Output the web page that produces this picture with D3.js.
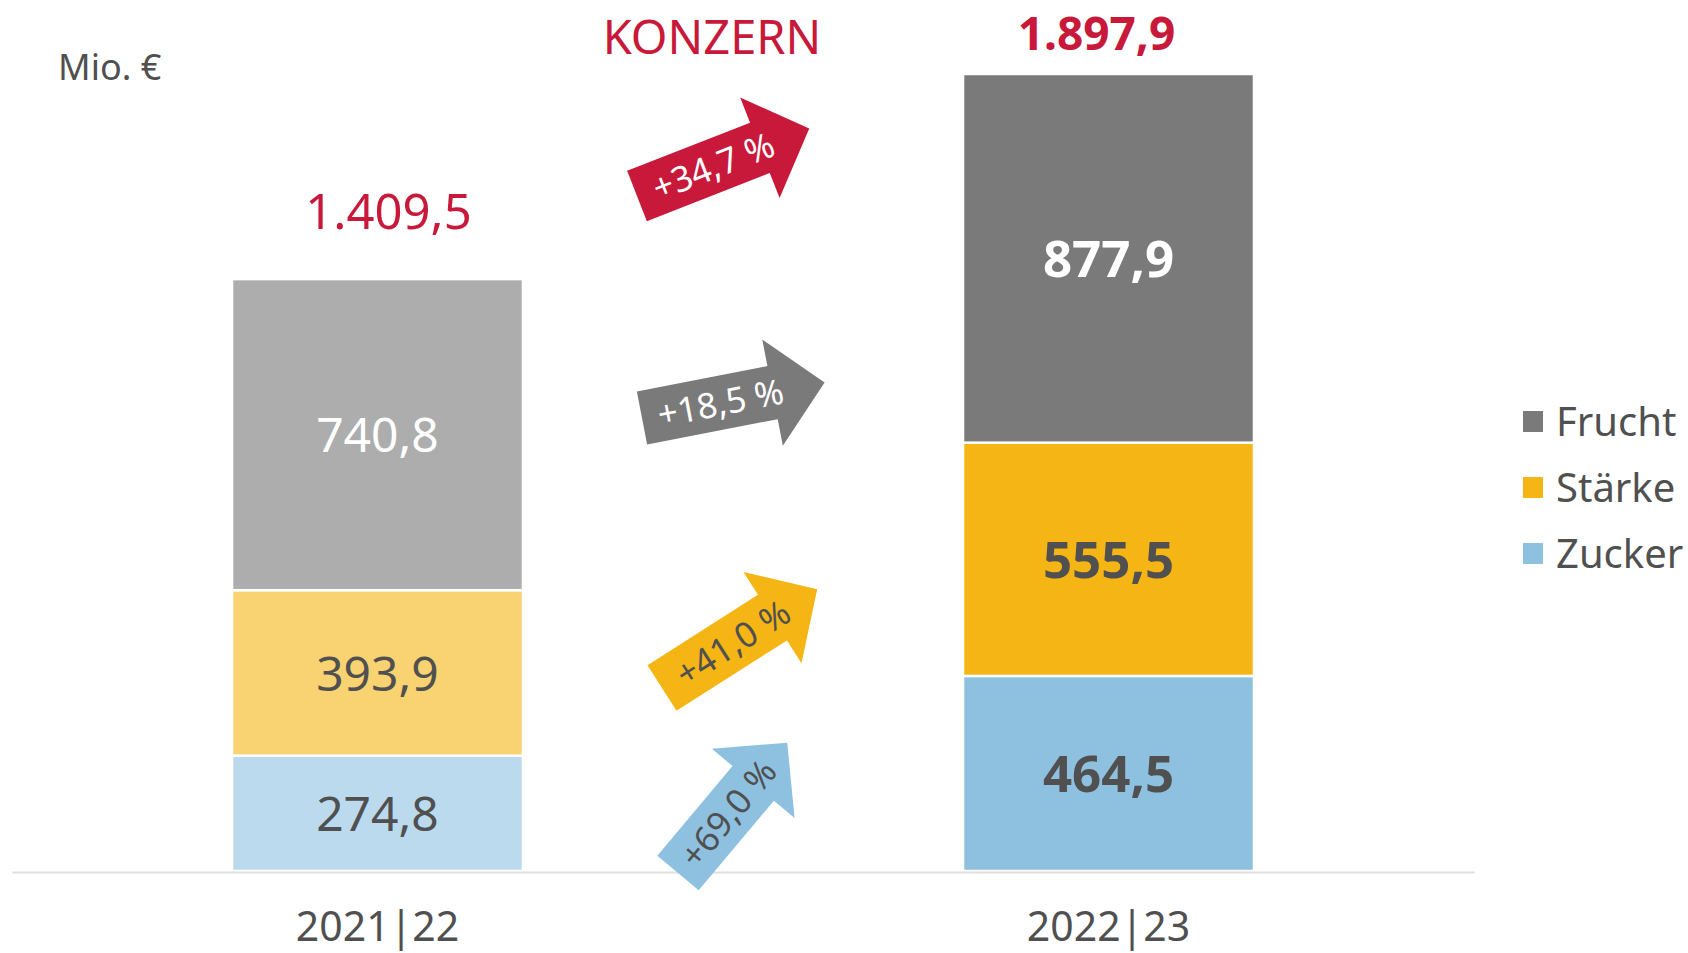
<!DOCTYPE html>
<html>
<head>
<meta charset="utf-8">
<script src="https://cdn.jsdelivr.net/npm/d3@7"></script>
<style>
  body { margin: 0; background: #fff; }
  text { font-family: "Noto Sans", "DejaVu Sans", sans-serif; }
</style>
</head>
<body>
<script>
// data
var years = ["2021|22", "2022|23"];
var segments = ["Zucker", "Stärke", "Frucht"];
var zucker = [274.8, 464.5];
var staerke = [393.9, 555.5];
var frucht = [740.8, 877.9];
var legendOrder = ["Frucht", "Stärke", "Zucker"];

var width = 1688, height = 953;
var red = "#c8193a", textGray = "#505050";

// light colours for first year, strong ones for second
var colors = {
  "Zucker": ["#bbdaee", "#8ec0e0"],
  "Stärke": ["#f9d272", "#f5b514"],
  "Frucht": ["#adadad", "#7a7a7a"]
};

var de = d3.formatLocale({decimal: ",", thousands: ".", grouping: [3], currency: ["", " €"]});
var fmt = de.format(",.1f");

var rows = years.map(function(y, i) {
  return {year: y, "Zucker": zucker[i], "Stärke": staerke[i], "Frucht": frucht[i], idx: i};
});
var totals = rows.map(function(r) { return d3.sum(segments, function(s) { return r[s]; }); });

var svg = d3.select("body").append("svg")
    .attr("width", width)
    .attr("height", height);

var x = d3.scaleBand()
    .domain(years)
    .range([12, 1474])
    .paddingInner(0.602)
    .paddingOuter(0.301);

var y = d3.scaleLinear()
    .domain([0, d3.max(totals)])
    .range([871, 74]);

var stacked = d3.stack().keys(segments)(rows);

var layers = svg.selectAll(".layer")
  .data(stacked)
  .enter().append("g")
    .attr("class", "layer");

layers.selectAll("rect")
  .data(function(d) { return d.map(function(p) { p.key = d.key; return p; }); })
  .enter().append("rect")
    .attr("x", function(d) { return x(d.data.year); })
    .attr("width", x.bandwidth())
    .attr("y", function(d) { return y(d[1]); })
    .attr("height", function(d) { return y(d[0]) - y(d[1]); })
    .attr("fill", function(d) { return colors[d.key][d.data.idx]; })
    .attr("stroke", "#fff")
    .attr("stroke-width", 2.5);

// segment values
layers.selectAll(".seglabel")
  .data(function(d) { return d; })
  .enter().append("text")
    .attr("class", "seglabel")
    .attr("x", function(d) { return x(d.data.year) + x.bandwidth() / 2; })
    .attr("y", function(d) { return y((d[0] + d[1]) / 2); })
    .attr("dy", "0.37em")
    .attr("text-anchor", "middle")
    .attr("font-size", function(d) { return d.data.idx == 1 ? 51 : 48; })
    .attr("font-weight", function(d) { return d.data.idx == 1 ? "bold" : "normal"; })
    .attr("fill", function(d) { return d.key == "Frucht" ? "#fff" : textGray; })
    .text(function(d) { return fmt(d[1] - d[0]); });

// x axis
var xAxis = svg.append("g")
    .attr("transform", "translate(0," + 872 + ")")
    .call(d3.axisBottom(x).tickSize(0).tickPadding(40));
xAxis.select(".domain").attr("stroke", "#e0e0e0").attr("stroke-width", 2);
xAxis.selectAll("text")
    .attr("font-size", 41)
    .attr("fill", textGray)
    .style("font-family", "'Noto Sans', sans-serif");

// totals above bars
var totalOffset = [[11, -50], [-12, -24]];
svg.selectAll(".total")
  .data(totals)
  .enter().append("text")
    .attr("class", "total")
    .attr("x", function(d, i) { return x(years[i]) + x.bandwidth() / 2 + totalOffset[i][0]; })
    .attr("y", function(d, i) { return y(d) + totalOffset[i][1]; })
    .attr("text-anchor", "middle")
    .attr("font-size", function(d, i) { return i == 1 ? 46 : 49; })
    .attr("font-weight", function(d, i) { return i == 1 ? "bold" : "normal"; })
    .attr("fill", red)
    .text(function(d) { return fmt(d); });

svg.append("text")
    .attr("x", 58).attr("y", 80)
    .attr("font-size", 36)
    .attr("fill", textGray)
    .text("Mio. €");

svg.append("text")
    .attr("x", 712).attr("y", 54)
    .attr("text-anchor", "middle")
    .attr("font-size", 47)
    .attr("fill", red)
    .text("KONZERN");

// growth arrows
function growth(a, b) {
  return (b > a ? "+" : "") + fmt((b / a - 1) * 100) + " %";
}
var arrows = [
  {label: growth(totals[0], totals[1]), fill: red, color: "#fff", tx: 637, ty: 196, angle: -21.4, len: 185, t: 82},
  {label: growth(frucht[0], frucht[1]), fill: "#7a7a7a", color: "#fff", tx: 642, ty: 418, angle: -11, len: 186, t: 80},
  {label: growth(staerke[0], staerke[1]), fill: "#f5b514", color: textGray, tx: 662, ty: 688, angle: -32.5, len: 184, t: 84},
  {label: growth(zucker[0], zucker[1]), fill: "#8ec0e0", color: textGray, tx: 678, ty: 873, angle: -50, len: 170, t: 78}
];
var sw = 54, hw = 108, hl = 53;

var ag = svg.selectAll(".arrow")
  .data(arrows)
  .enter().append("g")
    .attr("class", "arrow")
    .attr("transform", function(d) { return "translate(" + d.tx + "," + d.ty + ") rotate(" + d.angle + ")"; });

ag.append("path")
    .attr("d", function(d) {
      var b = d.len - hl;
      return "M0," + (-sw / 2) + "L" + b + "," + (-sw / 2) + "L" + b + "," + (-hw / 2) +
        "L" + d.len + ",0L" + b + "," + (hw / 2) + "L" + b + "," + (sw / 2) + "L0," + (sw / 2) + "Z";
    })
    .attr("fill", function(d) { return d.fill; });

ag.append("text")
    .attr("x", function(d) { return d.t; })
    .attr("dy", "0.36em")
    .attr("text-anchor", "middle")
    .attr("font-size", 35)
    .attr("fill", function(d) { return d.color; })
    .text(function(d) { return d.label; });

// legend
var legend = svg.selectAll(".legend")
  .data(legendOrder)
  .enter().append("g")
    .attr("class", "legend")
    .attr("transform", function(d, i) { return "translate(1523," + (411 + i * 66) + ")"; });
legend.append("rect")
    .attr("width", 20).attr("height", 21)
    .attr("fill", function(d) { return colors[d][1]; });
legend.append("text")
    .attr("x", 33).attr("y", 10.5)
    .attr("dy", "0.36em")
    .attr("font-size", 40)
    .attr("fill", textGray)
    .text(function(d) { return d; });
</script>
</body>
</html>
